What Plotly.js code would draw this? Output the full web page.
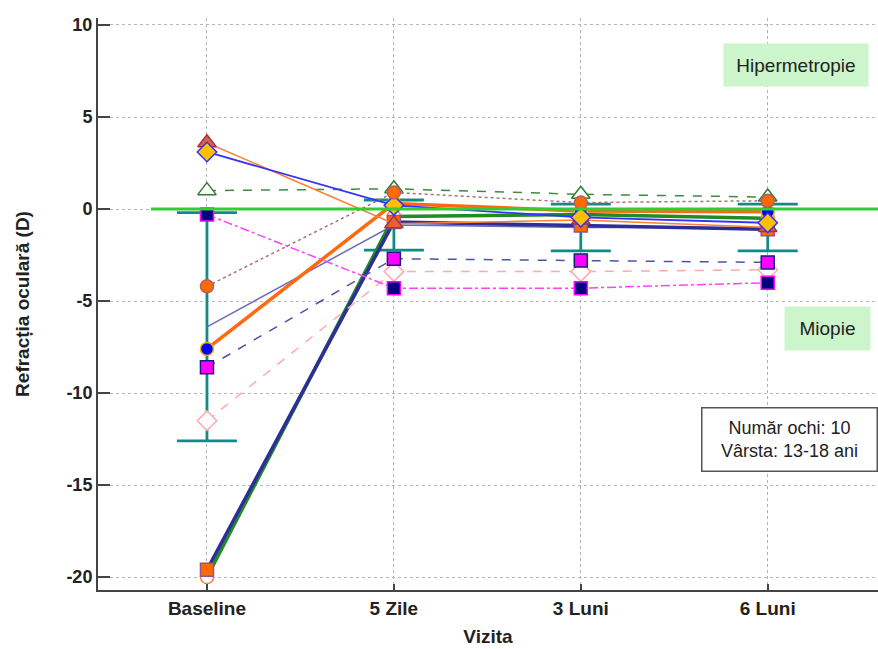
<!DOCTYPE html>
<html>
<head>
<meta charset="utf-8">
<script src="https://cdn.plot.ly/plotly-3.0.1.min.js"></script>
<style>html,body{margin:0;padding:0;background:#fff;}#chart{width:878px;height:649px;}</style>
</head>
<body>
<div id="chart"></div>
<script>
// Categories (visits)
const visits = ["Baseline", "5 Zile", "3 Luni", "6 Luni"];

// Y tick values and labels
const yTickVals = [-20, -15, -10, -5, 0, 5, 10];
const yTickText = ["-20", "-15", "-10", "-5", "0", "5", "10"];

// Individual eyes (refraction, D)
const eye1 = [3.6, -0.8, -0.6, -1.0];
const eye2 = [3.1, 0.2, -0.45, -0.75];
const eye3 = [1.0, 1.1, 0.8, 0.65];
const eye4 = [-0.3, -4.3, -4.3, -4.0];
const eye5 = [-4.2, 0.9, 0.35, 0.45];
const eye6 = [-7.6, 0.3, -0.1, -0.15];
const eye7 = [-8.6, -2.7, -2.8, -2.9];
const eye8 = [-11.5, -3.4, -3.4, -3.3];
const eye9 = [-19.6, -0.7, -0.9, -1.1];
const eye10 = [-20.0, -0.4, -0.3, -0.5];

// Mean and 95% CI half-widths
const meanVals = [-6.4, -0.87, -1.0, -1.0];
const ciHalf = [6.2, 1.36, 1.27, 1.27];

const refLevel = 0;

const FONT = "Liberation Sans, Arial, sans-serif";

function eye(y, mSym, mFill, mLine, lColor, lWidth, dash) {
  const sz = mSym === "diamond" ? 15 : (mSym === "triangle-up" ? 16 : 13);
  return {
    x: visits, y: y, type: "scatter", mode: "lines+markers",
    line: {color: lColor, width: lWidth, dash: dash},
    marker: {symbol: mSym, size: sz, color: mFill, line: {color: mLine, width: 1.5}},
    showlegend: false, hoverinfo: "y"
  };
}

const traces = [
  {
    x: visits, y: meanVals, type: "scatter", mode: "lines",
    line: {color: "#6a6ac0", width: 1.5},
    error_y: {type: "data", array: ciHalf, visible: true, color: "#138a8a", thickness: 2.8, width: 30},
    showlegend: false
  },
  eye(eye10, "circle", "#ffffff", "#ff8030", "#228b22", 3.5, "solid"),
  eye(eye9, "square", "#ff6a00", "#9b4f96", "#2e2e9a", 3.5, "solid"),
  eye(eye6, "circle", "#0000ff", "#f0b000", "#ff6a10", 3.5, "solid"),
  eye(eye8, "diamond", "#ffffff", "#ffaaaa", "#ffaaaa", 1.5, "dash"),
  eye(eye7, "square", "#ff00ff", "#1a1a80", "#5050a8", 1.5, "dash"),
  eye(eye4, "square", "#000080", "#ff00ff", "#ff40ff", 1.5, "dashdot"),
  eye(eye3, "triangle-up", "#ffffff", "#2e7d32", "#3d8b3d", 1.5, "dash"),
  eye(eye1, "triangle-up", "#e8602c", "#a0305a", "#ff8030", 1.5, "solid"),
  eye(eye2, "diamond", "#ffc000", "#3333ff", "#3333ff", 1.8, "solid"),
  eye(eye5, "circle", "#ff6a00", "#b06060", "#b07070", 1.5, "dot")
];

const layout = {
  width: 878, height: 649,
  margin: {l: 98, r: 0, t: 18, b: 59},
  paper_bgcolor: "#ffffff", plot_bgcolor: "#ffffff",
  font: {family: FONT, color: "#222"},
  xaxis: {
    type: "category", range: [-0.583, 3.59],
    showline: true, linecolor: "#444", linewidth: 2,
    ticks: "inside", ticklen: 6, tickcolor: "#444", tickwidth: 2,
    showgrid: true, gridcolor: "#b0b0b0", griddash: "dot", gridwidth: 1,
    tickfont: {family: FONT, size: 19, color: "#222", weight: "bold"}, zeroline: false,
    title: {text: "Vizita", font: {family: FONT, size: 19, color: "#222", weight: "bold"}, standoff: 12}
  },
  yaxis: {
    range: [-20.7, 10.38],
    tickvals: yTickVals, ticktext: yTickText,
    showline: true, linecolor: "#444", linewidth: 2,
    ticks: "inside", ticklen: 12, tickcolor: "#444", tickwidth: 2,
    showgrid: true, gridcolor: "#b8b8b8", griddash: "dot", gridwidth: 1,
    tickfont: {family: FONT, size: 18, color: "#222", weight: "bold"}, zeroline: false,
    title: {text: "Refracția oculară (D)", font: {family: FONT, size: 19, color: "#222", weight: "bold"}, standoff: 32}
  },
  shapes: [
    {type: "line", xref: "x", yref: "y", x0: -0.3, x1: 3.7, y0: refLevel, y1: refLevel,
     line: {color: "#33cc33", width: 3}, layer: "above"}
  ],
  annotations: [
    {xref: "paper", yref: "y", x: 0.895, y: 7.83, xanchor: "center", yanchor: "middle",
     text: "Hipermetropie", showarrow: false,
     bgcolor: "#ccf5cc", width: 140, height: 38, borderpad: 2,
     font: {family: FONT, size: 19, color: "#222"}},
    {xref: "paper", yref: "y", x: 0.935, y: -6.47, xanchor: "center", yanchor: "middle",
     text: "Miopie", showarrow: false,
     bgcolor: "#ccf5cc", width: 81, height: 39, borderpad: 2,
     font: {family: FONT, size: 19, color: "#222"}},
    {xref: "paper", yref: "y", x: 0.886, y: -12.53, xanchor: "center", yanchor: "middle",
     text: "Număr ochi: 10<br>Vârsta: 13-18 ani", showarrow: false,
     bgcolor: "#ffffff", bordercolor: "#555", borderwidth: 1.5, width: 172, height: 60, borderpad: 1,
     font: {family: FONT, size: 18, color: "#222"}}
  ]
};

Plotly.newPlot("chart", traces, layout, {displayModeBar: false, staticPlot: true});
</script>
</body>
</html>
